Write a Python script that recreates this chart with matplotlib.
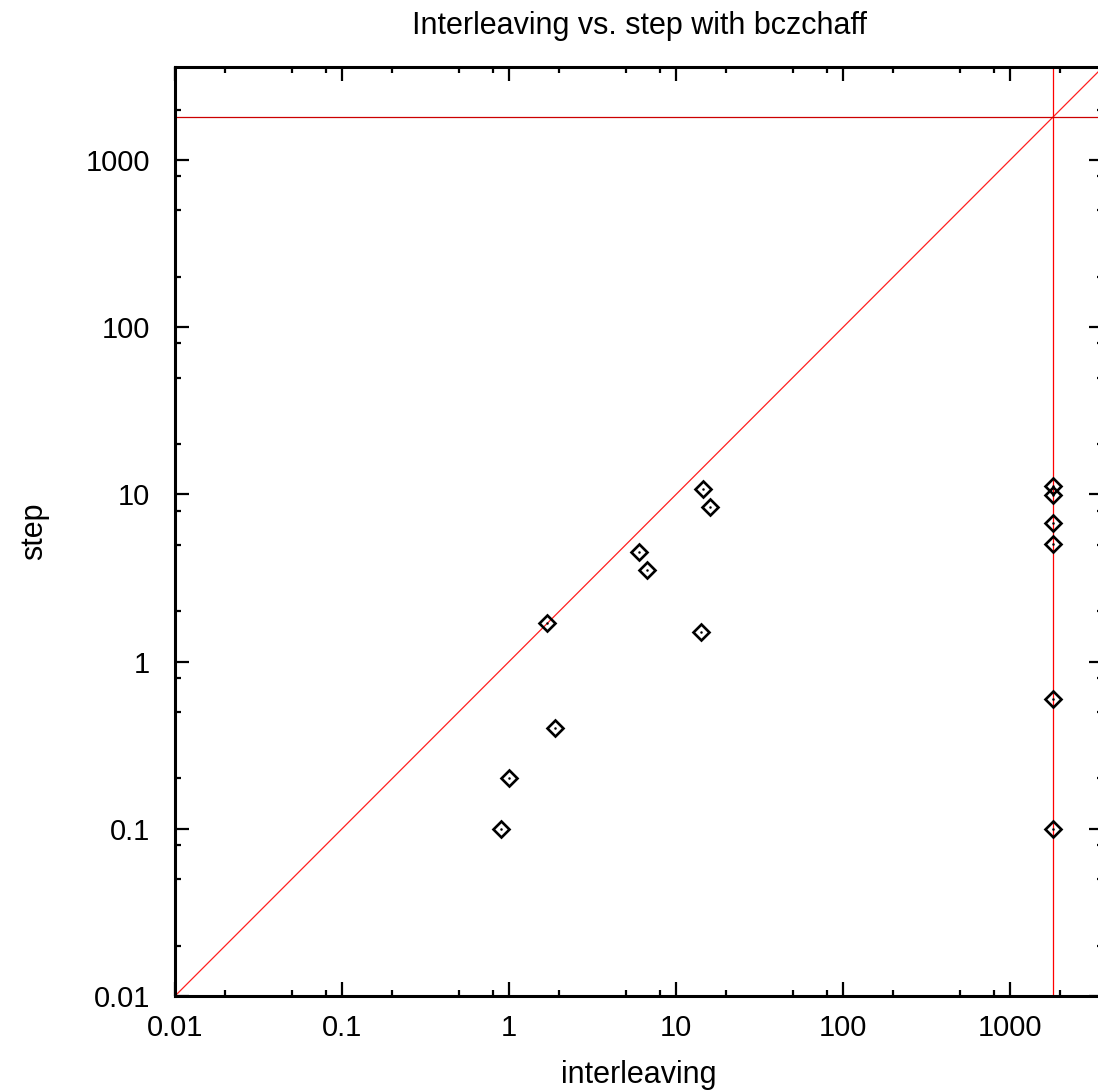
import matplotlib.pyplot as plt
import numpy as np
from matplotlib.ticker import FixedLocator, NullFormatter

# timings (seconds); 1800 = timeout
timeout = 1800
interleaving = [0.89, 1.0, 1.89, 1.68, 6.03, 6.73, 14.4, 16.0, 14.2,
                1800, 1800, 1800, 1800, 1800, 1800]
step = [0.1, 0.2, 0.4, 1.70, 4.54, 3.52, 10.8, 8.44, 1.51,
        11.2, 9.9, 6.7, 5.07, 0.6, 0.1]

lo, hi = 0.01, 3600
major = [0.01, 0.1, 1, 10, 100, 1000]
major_labels = ['0.01', '0.1', '1', '10', '100', '1000']
minor = [m * d for d in [0.01, 0.1, 1, 10, 100, 1000] for m in (2, 5, 8)]

plt.rcParams['font.family'] = ['Liberation Sans', 'DejaVu Sans']

fig = plt.figure(figsize=(10.98, 10.91), dpi=100)
ax = fig.add_axes([175 / 1098, 1 - 996 / 1091, 928 / 1098, 929 / 1091])

ax.plot([lo, hi], [lo, hi], color='#ff2020', lw=0.9, zorder=2)
ax.axvline(timeout, color='red', lw=0.9, zorder=2)
ax.axhline(timeout, color='#cc0000', lw=0.9, zorder=2)

ax.plot(interleaving, step, linestyle='none', marker='D', ms=7.8,
        mfc='none', mec='black', mew=1.9, zorder=3)
ax.plot(interleaving, step, linestyle='none', marker='o', ms=1.8,
        mfc='black', mec='black', mew=0, zorder=3)

ax.set_xscale('log')
ax.set_yscale('log')
ax.set_xlim(lo, hi)
ax.set_ylim(lo, hi)

for axis in (ax.xaxis, ax.yaxis):
    axis.set_major_locator(FixedLocator(major))
    axis.set_minor_locator(FixedLocator(minor))
    axis.set_minor_formatter(NullFormatter())
ax.set_xticklabels(major_labels)
ax.set_yticklabels(major_labels)

ax.tick_params(which='both', direction='in', top=True, right=True, width=1.6, labelsize=21)
ax.tick_params(which='major', length=10)
ax.tick_params(which='minor', length=4.5)
ax.tick_params(axis='x', pad=13)
ax.tick_params(axis='y', pad=18)
for s in ax.spines.values():
    s.set_linewidth(2.2)

ax.set_title('Interleaving vs. step with bczchaff', fontsize=22, pad=24)
ax.set_xlabel('interleaving', fontsize=22, labelpad=13)
ax.set_ylabel('step', fontsize=22, labelpad=26)

fig.savefig('out.png', dpi=100)
